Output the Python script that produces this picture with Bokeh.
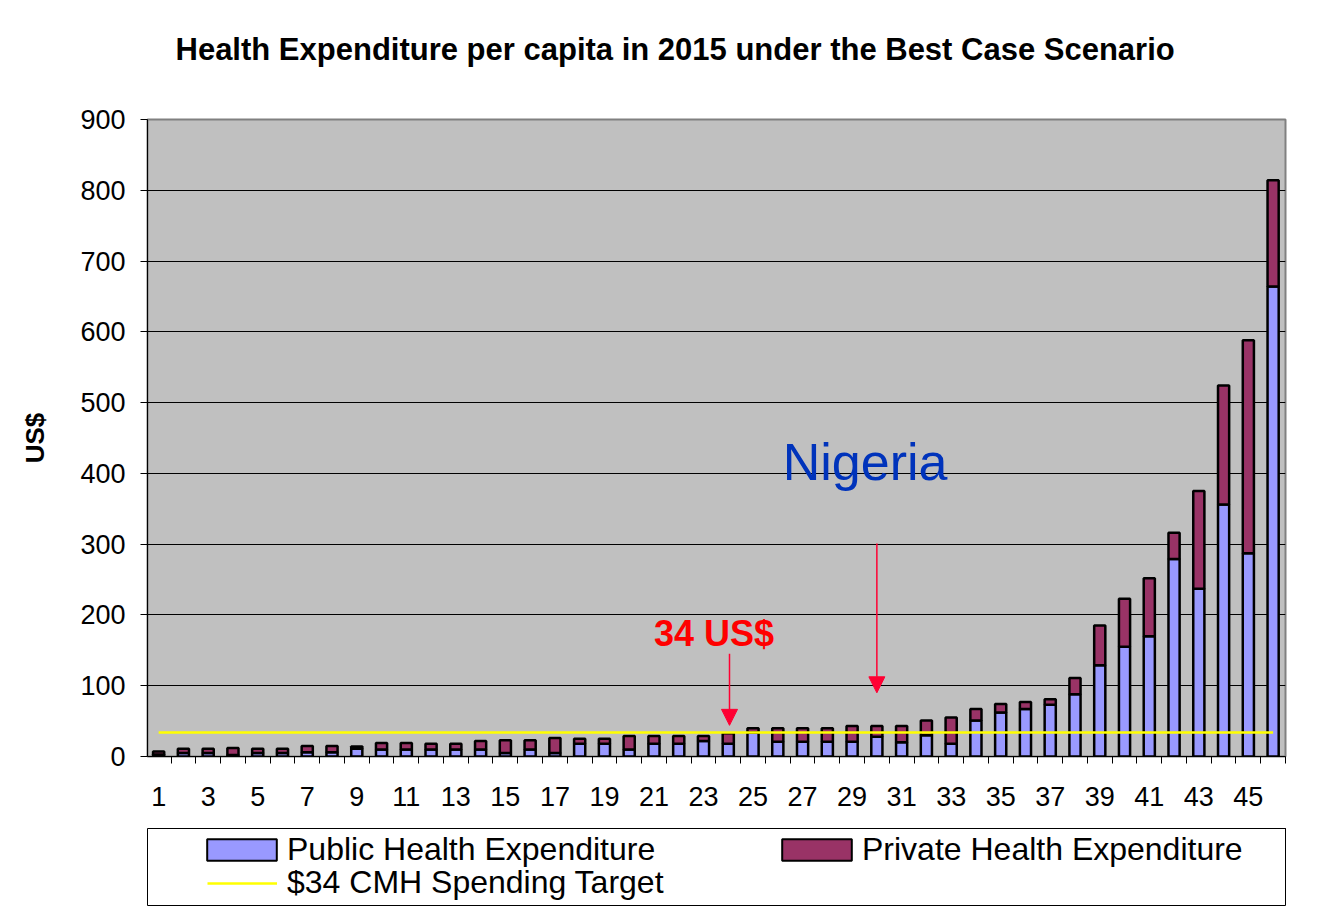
from bokeh.plotting import figure
from bokeh.models import (ColumnDataSource, FixedTicker, Legend, LegendItem, Arrow,
                          NormalHead, Label, Range1d, Title)
from bokeh.layouts import column
from bokeh.embed import file_html
from bokeh.resources import INLINE

# ---------------- data ----------------
categories = list(range(1, 47))
public = [3, 5, 5, 2, 5, 5, 6, 6, 11, 10, 10, 10, 10, 10, 5, 10, 5, 18, 18, 10,
          18, 18, 22, 18, 34, 21, 21, 21, 21, 28, 20, 30, 18, 51, 62, 67, 73, 88, 129, 155,
          170, 279, 237, 356, 287, 664]
private = [4, 6, 6, 10, 6, 6, 9, 9, 3, 9, 9, 8, 8, 12, 18, 13, 21, 7, 7, 19,
           11, 11, 7, 15, 6, 19, 19, 19, 22, 15, 23, 21, 37, 16, 12, 10, 8, 23, 56, 68,
           82, 37, 138, 168, 301, 150]
tick_labels = list(range(1, 46, 2))
y_ticks = list(range(0, 901, 100))
TARGET = 34
series_names = ["Public Health Expenditure", "Private Health Expenditure"]
target_name = "$34 CMH Spending Target"
title_text = "Health Expenditure per capita in 2015 under the Best Case Scenario"
# annotation arrows: (category, y_start, y_end)
arrows = [(24.05, 145, 44), (30.0, 301, 90)]

FONT = "Liberation Sans"
BLUE = "#9999FF"
PLUM = "#993366"
RED = "#FF0033"

src = ColumnDataSource(dict(x=categories, public=public, private=private,
                            target=[TARGET] * len(categories)))

p = figure(width=1328, height=820, output_backend="svg", toolbar_location=None,
           x_range=Range1d(0.55, 46.5), y_range=Range1d(0, 900),
           min_border_left=146, min_border_right=43, min_border_top=119,
           min_border_bottom=64, background_fill_color="#C0C0C0",
           border_fill_color="white")

p.title.text = title_text
p.title.text_font = FONT
p.title.text_font_size = "31px"
p.title.text_font_style = "bold"
p.title.text_color = "black"
p.title.align = "left"
p.title.offset = 28
p.title.standoff = 10
# empty spacer between the frame and the title
p.add_layout(Title(text=" ", text_font_size="10px", standoff=35), "above")

p.vbar_stack(["public", "private"], x="x", width=0.45, source=src,
             fill_color=[BLUE, PLUM], line_color="black", line_width=2.5)

p.line(x=[categories[0], categories[-1]], y=[TARGET, TARGET], line_color="#FFFF00",
       line_width=2.5)

for (ax, ys, ye) in arrows:
    p.add_layout(Arrow(end=NormalHead(size=16, fill_color=RED, line_color=RED),
                       x_start=ax, y_start=ys, x_end=ax, y_end=ye,
                       line_color=RED, line_width=1.5))

p.add_layout(Label(x=26.2, y=416, text="Nigeria", text_font=FONT, text_font_size="52px",
                   text_color="#0033BB", text_baseline="alphabetic"))
p.add_layout(Label(x=21.0, y=174, text="34 US$", text_font=FONT, text_font_size="36px",
                   text_font_style="bold", text_color="#FF0000",
                   text_baseline="alphabetic"))

# axes
p.xgrid.visible = False
p.ygrid.ticker = FixedTicker(ticks=y_ticks)
p.ygrid.grid_line_color = "black"
p.ygrid.grid_line_width = 1

p.xaxis.ticker = FixedTicker(ticks=tick_labels,
                             minor_ticks=[c + 0.5 for c in [0] + categories])
p.xaxis.major_tick_out = 0
p.xaxis.major_tick_in = 0
p.xaxis.minor_tick_out = 7
p.xaxis.minor_tick_in = 0
p.xaxis.minor_tick_line_color = "black"
p.xaxis.major_label_standoff = 23

p.yaxis.ticker = FixedTicker(ticks=y_ticks)
p.yaxis.major_tick_out = 7
p.yaxis.major_tick_in = 0
p.yaxis.minor_tick_line_color = None
p.yaxis.major_label_standoff = 15
p.yaxis.axis_label = "US$"
p.yaxis.axis_label_text_font = FONT
p.yaxis.axis_label_text_font_size = "26px"
p.yaxis.axis_label_text_font_style = "bold"
p.yaxis.axis_label_text_color = "black"
p.yaxis.axis_label_standoff = 27

for ax in (p.xaxis, p.yaxis):
    ax.axis_line_color = "black"
    ax.axis_line_width = 1
    ax.major_tick_line_color = "black"
    ax.major_label_text_font = FONT
    ax.major_label_text_font_size = "27px"
    ax.major_label_text_color = "black"

p.outline_line_color = "#808080"
p.outline_line_width = 2

# ---------------- legend panel ----------------
lg = figure(width=1328, height=86, output_backend="svg", toolbar_location=None,
            x_axis_type=None, y_axis_type=None, x_range=Range1d(-200, -199),
            y_range=Range1d(-200, -199), min_border_left=147, min_border_right=36,
            min_border_top=8, min_border_bottom=0, outline_line_color="black",
            outline_line_width=1, background_fill_color="white")

# legend swatches reuse the chart's own data (drawn outside this panel's visible range)
r_pub = lg.vbar(x="x", top="public", width=0.45, source=src, fill_color=BLUE,
                line_color="black", line_width=2)
r_pri = lg.vbar(x="x", top="private", width=0.45, source=src, fill_color=PLUM,
                line_color="black", line_width=2)
r_tgt = lg.line(x="x", y="target", source=src, line_color="#FFFF00", line_width=2.5)

common = dict(border_line_color=None, background_fill_alpha=0, padding=0, margin=0,
              spacing=0, label_text_font=FONT, label_text_font_size="32px",
              label_height=31, label_text_color="black")
box_glyph = dict(glyph_width=87, glyph_height=27, label_standoff=2)
line_glyph = dict(glyph_width=70, glyph_height=22, label_standoff=10)

legA1 = Legend(items=[LegendItem(label=series_names[0], renderers=[r_pub])],
               location=(51, 38), **common, **box_glyph)
legA2 = Legend(items=[LegendItem(label=target_name, renderers=[r_tgt])],
               location=(60, 5), **common, **line_glyph)
legB = Legend(items=[LegendItem(label=series_names[1], renderers=[r_pri])],
              location=(626, 38), **common, **box_glyph)
for lgd in (legA1, legA2, legB):
    lg.add_layout(lgd)

layout = column(p, lg, spacing=0)
open("out.html", "w").write(file_html(layout, INLINE))
